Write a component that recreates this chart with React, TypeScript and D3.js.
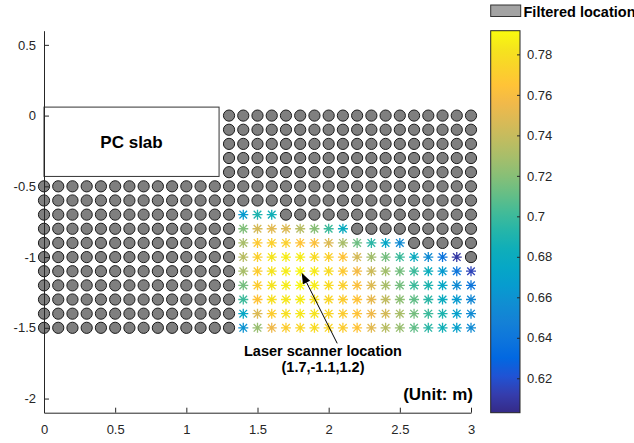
import React, { useEffect, useRef } from "react";
import * as d3 from "d3";

// grid of scan positions (m)
const gridX = [0, 0.1, 0.2, 0.3, 0.4, 0.5, 0.6, 0.7, 0.8, 0.9, 1.0, 1.1, 1.2, 1.3, 1.4, 1.5, 1.6, 1.7, 1.8, 1.9, 2.0, 2.1, 2.2, 2.3, 2.4, 2.5, 2.6, 2.7, 2.8, 2.9, 3.0];
const upperRowsY = [0, -0.1, -0.2, -0.3, -0.4];
const lowerRowsY = [-0.5, -0.6, -0.7, -0.8, -0.9, -1.0, -1.1, -1.2, -1.3, -1.4, -1.5];
const upperStartX = 1.3;

// measured values, each row starts at x = 1.4
const starX = [1.4, 1.5, 1.6, 1.7, 1.8, 1.9, 2.0, 2.1, 2.2, 2.3, 2.4, 2.5, 2.6, 2.7, 2.8, 2.9, 3.0];
const starRowY = [-0.7, -0.8, -0.9, -1.0, -1.1, -1.2, -1.3, -1.4, -1.5];
const starValues = [
  [0.665, 0.69, 0.685],
  [0.718, 0.745, 0.75, 0.748, 0.735, 0.72, 0.7, 0.68],
  [0.73, 0.768, 0.772, 0.772, 0.765, 0.762, 0.748, 0.73, 0.713, 0.695, 0.675, 0.655],
  [0.735, 0.772, 0.783, 0.786, 0.786, 0.778, 0.772, 0.765, 0.745, 0.728, 0.715, 0.7, 0.68, 0.655, 0.638, 0.61],
  [0.73, 0.77, 0.782, 0.786, 0.79, 0.785, 0.778, 0.768, 0.758, 0.742, 0.728, 0.715, 0.7, 0.682, 0.665, 0.64, 0.615],
  [0.715, 0.77, 0.782, 0.786, 0.79, 0.786, 0.778, 0.772, 0.762, 0.748, 0.73, 0.715, 0.7, 0.69, 0.675, 0.655, 0.64],
  [0.7, 0.765, 0.78, 0.784, 0.786, 0.78, 0.775, 0.77, 0.765, 0.752, 0.738, 0.722, 0.71, 0.695, 0.68, 0.665, 0.652],
  [0.675, 0.748, 0.77, 0.78, 0.784, 0.782, 0.775, 0.77, 0.765, 0.755, 0.745, 0.73, 0.715, 0.7, 0.69, 0.67, 0.655],
  [0.66, 0.725, 0.755, 0.77, 0.775, 0.778, 0.775, 0.77, 0.765, 0.75, 0.735, 0.725, 0.71, 0.695, 0.685, 0.67, 0.655],
];

const xTicks = [0, 0.5, 1, 1.5, 2, 2.5, 3];
const yTicks = [-2, -1.5, -1, -0.5, 0, 0.5];
const cTicks = [0.62, 0.64, 0.66, 0.68, 0.7, 0.72, 0.74, 0.76, 0.78];
const colorRange = [0.603, 0.7917];

// PC slab corners and annotation (m)
const slab = { x0: 0, x1: 1.23, y0: 0.06, y1: -0.43 };
const arrowTail = [2.06, -1.61];
const arrowHead = [1.81, -1.11];

// parula, every 3rd entry
const parula = [
  [0.2081, 0.1663, 0.5292], [0.2081, 0.2386, 0.6771], [0.1253, 0.3242, 0.8303], [0.006, 0.4086, 0.8828],
  [0.0498, 0.4586, 0.8641], [0.0779, 0.504, 0.8384], [0.0641, 0.557, 0.824], [0.0265, 0.6137, 0.8135],
  [0.0228, 0.6535, 0.7768], [0.059, 0.6838, 0.7254], [0.1453, 0.7098, 0.6646], [0.2586, 0.7317, 0.5954],
  [0.3953, 0.7459, 0.5244], [0.53, 0.7491, 0.4661], [0.6473, 0.7456, 0.4188], [0.7525, 0.7384, 0.3768],
  [0.8507, 0.7299, 0.336], [0.945, 0.7261, 0.2886], [0.999, 0.7653, 0.2164], [0.9789, 0.8271, 0.1633],
  [0.9589, 0.8949, 0.1132], [0.9763, 0.9831, 0.0538],
].map(([r, g, b]) => d3.rgb(r * 255, g * 255, b * 255).formatHex());

const FONT = "'Liberation Sans', Arial, sans-serif";
const AX = "#262626";

export default function App() {
  const ref = useRef<SVGSVGElement>(null);

  useEffect(() => {
    const svg = d3.select(ref.current);
    svg.selectAll("*").remove();

    const x = d3.scaleLinear().domain([0, 3]).range([44, 471]);
    const y = d3.scaleLinear().domain([-2.1, 0.6]).range([412.7, 30.7]);
    const cy = d3.scaleLinear().domain(colorRange).range([412.7, 30.7]);
    const interp = d3.piecewise(d3.interpolateRgb, parula);
    const color = (v: number) => interp((v - colorRange[0]) / (colorRange[1] - colorRange[0]));

    const key = (a: number, b: number) => `${Math.round(a * 10)},${Math.round(b * 10)}`;
    const stars: { x: number; y: number; v: number }[] = [];
    starRowY.forEach((ry, i) => starValues[i].forEach((v, j) => stars.push({ x: starX[j], y: ry, v })));
    const starSet = new Set(stars.map((s) => key(s.x, s.y)));

    const circles: { x: number; y: number }[] = [];
    upperRowsY.forEach((ry) => gridX.filter((gx) => gx >= upperStartX - 1e-9).forEach((gx) => circles.push({ x: gx, y: ry })));
    lowerRowsY.forEach((ry) => gridX.forEach((gx) => { if (!starSet.has(key(gx, ry))) circles.push({ x: gx, y: ry }); }));

    // filtered locations
    svg.append("g").selectAll("circle").data(circles).enter().append("circle")
      .attr("cx", (d) => x(d.x)).attr("cy", (d) => y(d.y)).attr("r", 5.6)
      .attr("fill", "#7f7f7f").attr("stroke", "#1a1a1a").attr("stroke-width", 1);

    // asterisks
    const a = 5, b = 3.8;
    const starPath = `M${-a},0L${a},0M0,${-a}L0,${a}M${-b},${-b}L${b},${b}M${-b},${b}L${b},${-b}`;
    svg.append("g").selectAll("path").data(stars).enter().append("path")
      .attr("d", starPath).attr("transform", (d) => `translate(${x(d.x)},${y(d.y)})`)
      .attr("stroke", (d) => color(d.v)).attr("stroke-width", 1.3).attr("fill", "none");

    // PC slab
    svg.append("rect")
      .attr("x", x(slab.x0)).attr("y", y(slab.y0))
      .attr("width", x(slab.x1) - x(slab.x0)).attr("height", y(slab.y1) - y(slab.y0))
      .attr("fill", "white").attr("stroke", "#333").attr("stroke-width", 1);
    svg.append("text").attr("x", x((slab.x0 + slab.x1) / 2)).attr("y", 148)
      .attr("text-anchor", "middle").attr("font-family", FONT).attr("font-weight", "bold")
      .attr("font-size", 17).attr("fill", "#000").text("PC slab");

    // axes
    const xAxis = svg.append("g").attr("transform", `translate(0,${y(-2.1)})`)
      .call(d3.axisBottom(x).tickValues(xTicks).tickFormat((d) => String(d)).tickSizeInner(-5).tickSizeOuter(0).tickPadding(12));
    const yAxis = svg.append("g").attr("transform", `translate(${x(0)},0)`)
      .call(d3.axisLeft(y).tickValues(yTicks).tickFormat((d) => String(d)).tickSizeInner(-5).tickSizeOuter(0).tickPadding(8));
    [xAxis, yAxis].forEach((g) => {
      g.selectAll("path, line").attr("stroke", AX);
      g.selectAll("text").attr("font-family", FONT).attr("font-size", 13).attr("fill", AX);
    });

    // annotation
    const hx = x(arrowHead[0]), hy = y(arrowHead[1]);
    const tx = x(arrowTail[0]), ty = y(arrowTail[1]);
    const ang = Math.atan2(hy - ty, hx - tx);
    const L = 11, W = 4;
    const bx = hx - L * Math.cos(ang), by = hy - L * Math.sin(ang);
    svg.append("line").attr("x1", tx).attr("y1", ty).attr("x2", bx).attr("y2", by)
      .attr("stroke", "#000").attr("stroke-width", 1);
    svg.append("path")
      .attr("d", `M${hx},${hy}L${bx - W * Math.sin(ang)},${by + W * Math.cos(ang)}L${bx + W * Math.sin(ang)},${by - W * Math.cos(ang)}Z`)
      .attr("fill", "#000");
    const ann = svg.append("text").attr("font-family", FONT).attr("font-weight", "bold")
      .attr("font-size", 14.5).attr("text-anchor", "middle").attr("fill", "#000");
    ann.append("tspan").attr("x", 323).attr("y", 355.5).text("Laser scanner location");
    ann.append("tspan").attr("x", 323).attr("y", 371.5).text("(1.7,-1.1,1.2)");

    svg.append("text").attr("x", 473).attr("y", 400).attr("text-anchor", "end")
      .attr("font-family", FONT).attr("font-weight", "bold").attr("font-size", 17)
      .attr("fill", "#000").text("(Unit: m)");

    // colorbar
    const grad = svg.append("defs").append("linearGradient").attr("id", "parula")
      .attr("x1", 0).attr("y1", 1).attr("x2", 0).attr("y2", 0);
    parula.forEach((c, i) => grad.append("stop").attr("offset", i / (parula.length - 1)).attr("stop-color", c));
    svg.append("rect").attr("x", 490.7).attr("y", cy(colorRange[1]))
      .attr("width", 29.3).attr("height", cy(colorRange[0]) - cy(colorRange[1]))
      .attr("fill", "url(#parula)").attr("stroke", AX).attr("stroke-width", 1);
    const cAxis = svg.append("g").attr("transform", "translate(520,0)")
      .call(d3.axisRight(cy).tickValues(cTicks).tickFormat((d) => String(d)).tickSizeInner(-3).tickSizeOuter(0).tickPadding(7));
    cAxis.select(".domain").remove();
    cAxis.selectAll("line").attr("stroke", AX);
    cAxis.selectAll("text").attr("font-family", FONT).attr("font-size", 13).attr("fill", AX);

    // legend
    svg.append("rect").attr("x", 490.7).attr("y", 5).attr("width", 30).attr("height", 11.5)
      .attr("fill", "#a3a3a3").attr("stroke", "#333").attr("stroke-width", 1);
    svg.append("text").attr("x", 523.5).attr("y", 17).attr("font-family", FONT)
      .attr("font-weight", "bold").attr("font-size", 14.5).attr("fill", "#000").text("Filtered location");
  }, []);

  return (
    <svg ref={ref} width={634} height={443}
      style={{ position: "absolute", left: 0, top: 0, background: "#fff" }} />
  );
}
